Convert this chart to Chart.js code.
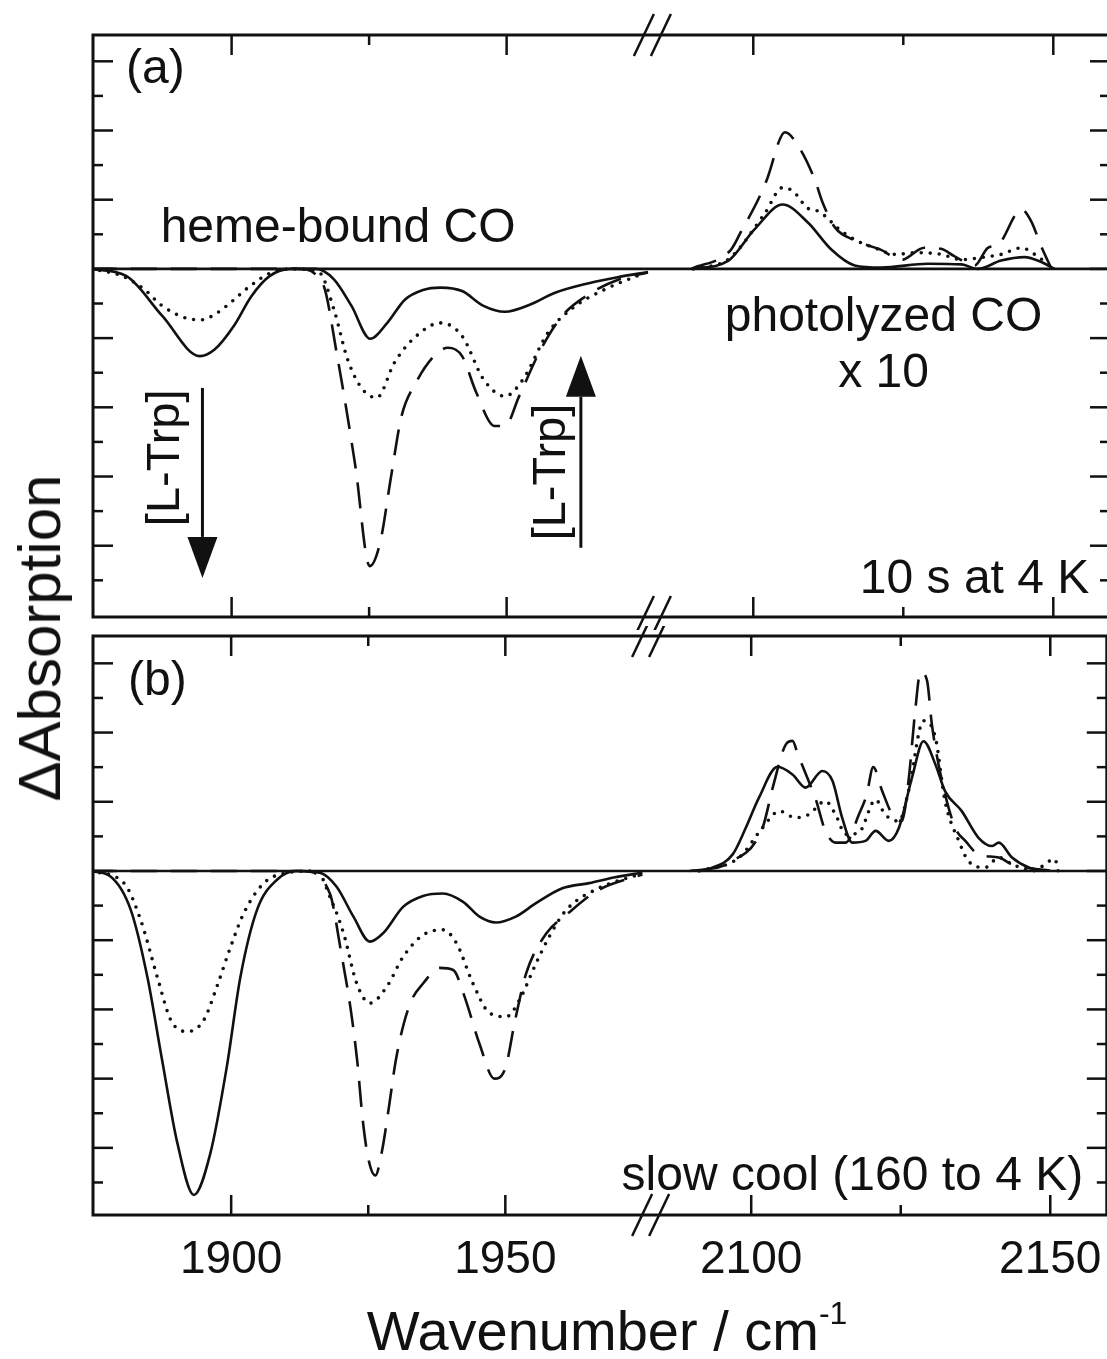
<!DOCTYPE html>
<html>
<head>
<meta charset="utf-8">
<script src="https://cdn.jsdelivr.net/npm/chart.js@4.4.1/dist/chart.umd.min.js"></script>
<style>
  html, body { margin: 0; padding: 0; background: #fff; overflow: hidden; }
  #wrap { position: relative; width: 1107px; height: 1359px; overflow: hidden; font-family: "Liberation Sans", Arial, sans-serif; color: #111; }
  .panel { position: absolute; left: 0; width: 1120px; }
  #panelA { top: 0; height: 630px; }
  #panelB { top: 626px; height: 733px; }
  #ylabel { position: absolute; left: 40px; top: 638px; transform: translate(-50%, -50%) rotate(-90deg); font-size: 60px; line-height: 1; white-space: nowrap; }
  #xlabel { position: absolute; left: 607px; top: 1303px; transform: translateX(-50%); font-size: 56px; line-height: 1; white-space: nowrap; }
  #xlabel span { position: relative; top: -26px; font-size: 32px; }
</style>
</head>
<body>
<div id="wrap">
  <div class="panel" id="panelA"><canvas id="chartA"></canvas></div>
  <div class="panel" id="panelB"><canvas id="chartB"></canvas></div>
  <div id="ylabel">ΔAbsorption</div>
  <div id="xlabel">Wavenumber / cm<span>-1</span></div>
</div>
<script>
// axis ticks (wavenumbers)
const xTickMajor = [1900, 1950, 2100, 2150];
const xTickMinor = [1925, 2125];
const yTickMajor = [-8, -6, -4, -2, 0, 2, 4, 6];
const yTickMinor = [-9, -7, -5, -3, -1, 1, 3, 5];

// panel (a): 10 s at 4 K  -- [wavenumber, dAbs]
const aSolidLeft = [[1874.4,0],[1880.9,-0.21],[1887.4,-1.36],[1894.2,-2.52],[1896.9,-2.33],[1900.4,-1.65],[1903.6,-0.79],[1906.9,-0.21],[1910.8,0],[1915.3,0],[1918.6,-0.3],[1921.8,-1.07],[1925.2,-2.02],[1928.3,-1.56],[1931.5,-0.89],[1934.8,-0.61],[1938,-0.54],[1941.9,-0.64],[1945.8,-1.07],[1949.7,-1.24],[1954.3,-1.03],[1958.8,-0.69],[1965.3,-0.4],[1970.5,-0.23],[1975.7,-0.09]];
const aDotLeft = [[1874.4,0],[1880,-0.2],[1884.1,-0.59],[1887.4,-1.07],[1891.9,-1.43],[1894.5,-1.47],[1897,-1.31],[1900,-0.95],[1903,-0.54],[1906.9,-0.13],[1910.8,0],[1915.9,-0.1],[1918.6,-1.17],[1921.1,-2.62],[1923.8,-3.48],[1926.4,-3.72],[1929.6,-2.71],[1932.9,-2.04],[1938,-1.56],[1941.9,-1.94],[1945.8,-3.19],[1949.7,-3.68],[1953,-3.19],[1957.5,-1.85],[1962.1,-1.12],[1967.9,-0.59],[1974.4,-0.16]];
const aDashLeft = [[1874.4,0],[1912,0],[1916.5,-0.4],[1919.2,-2.52],[1922.5,-5.7],[1925.1,-8.59],[1927,-7.91],[1929,-5.99],[1930.9,-4.25],[1933.5,-3.29],[1936.8,-2.52],[1939.3,-2.28],[1941.9,-2.52],[1944.5,-3.58],[1947.8,-4.54],[1949.7,-4.54],[1952.3,-3.67],[1956.2,-2.33],[1960.1,-1.36],[1965.3,-0.7],[1970.5,-0.3],[1975.7,-0.1]];
const aSolidRight = [[2089.7,0],[2095.8,0.23],[2100.2,1.14],[2104.9,1.86],[2109.1,1.34],[2113,0.56],[2116.9,0.1],[2121.3,0.04],[2129.1,0.15],[2134.7,0.13],[2137.4,0],[2141.3,0.24],[2145.2,0.34],[2148,0.2],[2150.2,0]];
const aDotRight = [[2090,0],[2096,0.3],[2101.9,1.6],[2104.9,2.35],[2106.6,2.25],[2109.1,1.75],[2110.8,1.67],[2114.7,1.09],[2117.4,0.8],[2120.2,0.61],[2123.6,0.42],[2127.4,0.47],[2131.3,0.42],[2134.7,0.27],[2138,0.33],[2141.3,0.42],[2144.7,0.61],[2146.9,0.42],[2149.7,0.05]];
const aDashRight = [[2089.7,0],[2096.3,0.56],[2098,1.09],[2100.8,2.0],[2102.2,2.55],[2105.3,3.95],[2107.5,3.55],[2110.2,2.6],[2111.6,1.9],[2113.6,1.2],[2117,0.82],[2121.3,0.55],[2124.7,0.26],[2128.5,0.61],[2131.3,0.58],[2133.5,0.37],[2136.9,0.1],[2139.1,0.61],[2140.8,0.7],[2144.7,1.72],[2146.3,1.38],[2148,0.65],[2149.7,0]];

// panel (b): slow cool (160 to 4 K)
const bSolidLeft = [[1874.4,0],[1878,-0.16],[1881.7,-1.13],[1884.7,-3.05],[1887.4,-5.46],[1890.2,-7.87],[1893.2,-9.36],[1896.2,-8.16],[1899.2,-5.66],[1901.7,-3.05],[1904.7,-1.13],[1908.3,-0.26],[1911.9,0],[1916.2,-0.05],[1919.2,-0.45],[1922.3,-1.32],[1925.3,-2.04],[1927.7,-1.8],[1931.4,-1.03],[1935,-0.72],[1938.6,-0.65],[1942.3,-0.89],[1945.3,-1.32],[1948.3,-1.49],[1951.9,-1.32],[1955.6,-0.93],[1960.4,-0.5],[1965.3,-0.35],[1970,-0.18],[1975,-0.05]];
const bDotLeft = [[1874.4,0],[1880.5,-0.36],[1883.5,-1.42],[1886.5,-3.05],[1889,-4.31],[1892,-4.64],[1895,-4.31],[1897.4,-3.34],[1899.9,-2.19],[1902.3,-1.22],[1905.9,-0.36],[1909.6,-0.07],[1915.6,0],[1918,-0.74],[1920.5,-1.8],[1922.9,-3.25],[1925.3,-3.82],[1928.4,-3.34],[1931.4,-2.47],[1935,-1.85],[1938.6,-1.7],[1941.1,-2.09],[1944.1,-3.25],[1947.1,-4.1],[1950.2,-4.21],[1952.6,-3.72],[1955.6,-2.67],[1958,-1.9],[1961.1,-1.13],[1967,-0.5],[1974.4,-0.1]];
const bDashLeft = [[1874.4,0],[1913,0],[1918,-0.65],[1920,-2.3],[1921.8,-4.0],[1923,-5.5],[1924,-7.2],[1925,-8.3],[1926.3,-8.8],[1927.5,-8.1],[1928.7,-6.9],[1930,-5.5],[1931.5,-4.4],[1933,-3.7],[1935,-3.25],[1938,-2.8],[1940.5,-2.86],[1942.5,-3.6],[1945.3,-5.0],[1948,-6.0],[1950,-5.7],[1951.8,-4.3],[1953.8,-2.96],[1957.5,-1.8],[1961.1,-1.27],[1967,-0.55],[1975,-0.1]];
const bSolidRight = [[2089.7,0],[2093.6,0.1],[2096.9,0.48],[2099.1,1.25],[2101.3,2.12],[2104.4,3.01],[2106.9,2.79],[2109.1,2.41],[2111.9,2.89],[2113.6,2.6],[2115.2,1.54],[2116.9,0.82],[2119.1,0.87],[2120.8,1.16],[2123,0.87],[2124.7,1.25],[2126.9,2.71],[2128.8,3.75],[2130.8,3.08],[2132.4,2.31],[2135.2,1.73],[2138,0.96],[2140.3,0.72],[2141.4,0.82],[2143.6,0.39],[2146.4,0.1],[2149.1,0]];
const bDotRight = [[2091.3,0],[2098,0.39],[2101.9,1.25],[2104.7,1.73],[2107.4,1.54],[2109.6,1.63],[2112.4,2.02],[2114.1,1.63],[2115.8,1.06],[2118,1.11],[2120.8,2.06],[2122.4,1.63],[2124.7,1.44],[2126.3,2.31],[2128.8,4.34],[2130.8,3.85],[2132.4,2.02],[2134.7,0.87],[2136.3,0.29],[2139.1,0.1],[2141.4,0.39],[2143.6,0.2],[2147,0],[2150.8,0.34],[2151.3,0]];
const bDashRight = [[2091.3,0],[2096.3,0.24],[2101.9,1.25],[2103.6,2.41],[2105.8,3.66],[2106.9,3.76],[2107.8,3.37],[2109.6,2.6],[2110.7,2.12],[2112.4,1.16],[2114.1,0.82],[2115.8,0.82],[2118,1.63],[2119.3,2.2],[2120.4,3.0],[2121.9,2.31],[2123.6,1.63],[2125.2,1.44],[2126.3,2.6],[2127.4,4.6],[2128.3,5.75],[2129.4,5.5],[2130.2,4.24],[2131.9,2.6],[2134.1,1.25],[2135.8,0.87],[2138,0.48],[2141.4,0.39],[2143.6,0.19],[2148,0.05],[2150.8,0]];

const FONT = '"Liberation Sans", Arial, sans-serif';

// broken x axis: right part (2083..) is squeezed onto the axis right after 1976.3
const BREAK_LEFT = 1976.3;
const BREAK_RIGHT = 2083;
const RIGHT_STRETCH = 6 / 5.5;
const X_MIN = 1874.8;
const X_MAX = 2059.7;

function toAxis(w) {
  return w < 2030 ? w : BREAK_LEFT + (w - BREAK_RIGHT) * RIGHT_STRETCH;
}

function series(left, right) {
  const pts = left.map(([w, v]) => ({ x: toAxis(w), y: v }));
  pts.push({ x: BREAK_LEFT + 0.5, y: null });
  right.forEach(([w, v]) => pts.push({ x: toAxis(w), y: v }));
  return pts;
}

const lineStyles = {
  solid: { borderWidth: 2.6, borderDash: [], borderCapStyle: "butt" },
  dot: { borderWidth: 3.6, borderDash: [0, 9], borderCapStyle: "round" },
  dash: { borderWidth: 2.6, borderDash: [26, 14], borderCapStyle: "butt" },
};

function makeDataset(label, data, style) {
  return Object.assign({
    label: label,
    data: data,
    borderColor: "#111",
    pointRadius: 0,
    fill: false,
    spanGaps: false,
    cubicInterpolationMode: "monotone",
  }, lineStyles[style]);
}

// frame, inward ticks, axis breaks and the text/arrow notes
const panelFrame = {
  id: "panelFrame",
  afterDatasetsDraw(chart, args, opts) {
    const { ctx, chartArea: a } = chart;
    const xs = chart.scales.x, ys = chart.scales.y;
    const seg = (x0, y0, x1, y1) => { ctx.beginPath(); ctx.moveTo(x0, y0); ctx.lineTo(x1, y1); ctx.stroke(); };
    ctx.save();
    ctx.strokeStyle = "#111";
    ctx.fillStyle = "#111";
    ctx.lineWidth = 3;
    ctx.strokeRect(a.left, a.top, a.right - a.left, a.bottom - a.top);

    ctx.lineWidth = 2.5;
    xTickMajor.concat(xTickMinor).forEach((w) => {
      const len = xTickMajor.includes(w) ? 20 : 10;
      const px = xs.getPixelForValue(toAxis(w));
      seg(px, a.top, px, a.top + len);
      seg(px, a.bottom, px, a.bottom - len);
    });
    yTickMajor.concat(yTickMinor).forEach((v) => {
      const len = yTickMajor.includes(v) ? 20 : 10;
      const py = ys.getPixelForValue(v);
      seg(a.left, py, a.left + len, py);
      seg(a.right, py, a.right - len, py);
    });

    // the "//" marks on the broken axis
    const bx = xs.getPixelForValue(BREAK_LEFT + 0.2);
    [a.top, a.bottom].forEach((yy) => {
      [-8.5, 8.5].forEach((dx) => seg(bx + dx - 10, yy + 21, bx + dx + 10, yy - 21));
    });

    ctx.textBaseline = "alphabetic";
    (opts.notes || []).forEach((n) => {
      const px = xs.getPixelForValue(toAxis(n.x));
      const py = ys.getPixelForValue(n.y);
      ctx.font = (n.size || 48) + "px " + FONT;
      if (n.rotate) {
        ctx.save();
        ctx.translate(px, py);
        ctx.rotate(-Math.PI / 2);
        ctx.textAlign = "center";
        ctx.textBaseline = "middle";
        ctx.fillText(n.text, 0, 0);
        ctx.restore();
      } else {
        ctx.textAlign = n.align || "left";
        ctx.fillText(n.text, px, py);
      }
    });

    (opts.arrows || []).forEach((ar) => {
      const px = xs.getPixelForValue(toAxis(ar.x));
      const p0 = ys.getPixelForValue(ar.from);
      const p1 = ys.getPixelForValue(ar.to);
      const dir = p1 > p0 ? 1 : -1;
      const head = 41;
      ctx.lineWidth = 3;
      seg(px, p0, px, p1 - dir * head);
      ctx.beginPath();
      ctx.moveTo(px, p1);
      ctx.lineTo(px - 15, p1 - dir * head);
      ctx.lineTo(px + 15, p1 - dir * head);
      ctx.closePath();
      ctx.fill();
    });
    ctx.restore();
  },
};

function makePanel(canvasId, curves, yRange, showLabels, padding, notes, arrows) {
  const datasets = [
    makeDataset("baseline", [{ x: X_MIN, y: 0 }, { x: X_MAX, y: 0 }], "solid"),
    makeDataset("solid", series(curves[0], curves[1]), "solid"),
    makeDataset("dotted", series(curves[2], curves[3]), "dot"),
    makeDataset("dashed", series(curves[4], curves[5]), "dash"),
  ];
  return new Chart(document.getElementById(canvasId), {
    type: "line",
    data: { datasets: datasets },
    plugins: [panelFrame],
    options: {
      responsive: true,
      maintainAspectRatio: false,
      animation: false,
      layout: { padding: padding, autoPadding: false },
      plugins: {
        legend: { display: false },
        tooltip: { enabled: false },
        panelFrame: { notes: notes, arrows: arrows },
      },
      scales: {
        x: {
          type: "linear",
          min: X_MIN,
          max: X_MAX,
          display: showLabels,
          border: { display: false },
          grid: { display: false, drawTicks: false },
          afterBuildTicks: (s) => { s.ticks = xTickMajor.map((w) => ({ value: toAxis(w) })); },
          afterFit: (s) => { s.height = showLabels ? 144 : 0; },
          ticks: {
            font: { family: FONT, size: 46 },
            color: "#111",
            padding: 18,
            maxRotation: 0,
            autoSkip: false,
            callback: (v, i) => String(xTickMajor[i]),
          },
        },
        y: { type: "linear", display: false, min: yRange[0], max: yRange[1] },
      },
    },
  });
}

makePanel("chartA",
  [aSolidLeft, aSolidRight, aDotLeft, aDotRight, aDashLeft, aDashRight],
  [-10.06, 6.76], false,
  { top: 35, bottom: 13, left: 93, right: 10 },
  [
    { text: "(a)", x: 1880.8, y: 5.36 },
    { text: "heme-bound CO", x: 1887.1, y: 0.79 },
    { text: "photolyzed CO", x: 2121.7, y: -1.8, align: "center" },
    { text: "x 10", x: 2121.7, y: -3.4, align: "center" },
    { text: "10 s at 4 K", x: 2156, y: -9.36, align: "right" },
    { text: "[L-Trp]", x: 1888.1, y: -5.46, rotate: true, size: 47 },
    { text: "[L-Trp]", x: 1958.3, y: -5.87, rotate: true, size: 47 },
  ],
  [
    { x: 1894.7, from: -3.44, to: -8.93 },
    { x: 1963.5, from: -8.06, to: -2.51 },
  ]);

makePanel("chartB",
  [bSolidLeft, bSolidRight, bDotLeft, bDotRight, bDashLeft, bDashRight],
  [-9.94, 6.79], true,
  { top: 10, bottom: 0, left: 93, right: 10 },
  [
    { text: "(b)", x: 1881.2, y: 5.09 },
    { text: "slow cool (160 to 4 K)", x: 2155.5, y: -9.22, align: "right" },
  ],
  []);
</script>
</body>
</html>
